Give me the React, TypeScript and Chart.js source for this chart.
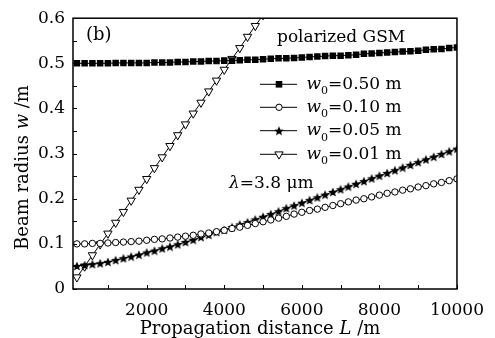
import React, { useEffect, useRef } from 'react';
import { Chart, registerables } from 'chart.js';

Chart.register(...registerables);

// ---------- data ----------
const distances = [
  200, 400, 600, 800, 1000, 1200, 1400, 1600, 1800, 2000,
  2200, 2400, 2600, 2800, 3000, 3200, 3400, 3600, 3800, 4000,
  4200, 4400, 4600, 4800, 5000, 5200, 5400, 5600, 5800, 6000,
  6200, 6400, 6600, 6800, 7000, 7200, 7400, 7600, 7800, 8000,
  8200, 8400, 8600, 8800, 9000, 9200, 9400, 9600, 9800, 10000,
];

const w050 = [
  0.500, 0.500, 0.500, 0.500, 0.500, 0.501, 0.501, 0.501, 0.501, 0.501,
  0.502, 0.502, 0.502, 0.503, 0.503, 0.504, 0.504, 0.505, 0.505, 0.506,
  0.506, 0.507, 0.508, 0.508, 0.509, 0.510, 0.511, 0.511, 0.512, 0.513,
  0.514, 0.515, 0.516, 0.517, 0.517, 0.518, 0.519, 0.521, 0.522, 0.523,
  0.524, 0.525, 0.526, 0.527, 0.528, 0.530, 0.531, 0.532, 0.534, 0.535,
];

const w010 = [
  0.100, 0.100, 0.101, 0.101, 0.102, 0.103, 0.104, 0.105, 0.106, 0.108,
  0.110, 0.111, 0.113, 0.115, 0.117, 0.119, 0.122, 0.124, 0.127, 0.130,
  0.134, 0.137, 0.141, 0.145, 0.149, 0.153, 0.157, 0.161, 0.166, 0.170,
  0.174, 0.177, 0.181, 0.185, 0.189, 0.193, 0.197, 0.200, 0.204, 0.208,
  0.212, 0.215, 0.219, 0.222, 0.226, 0.229, 0.233, 0.236, 0.240, 0.244,
];

const w005 = [
  0.051, 0.053, 0.055, 0.057, 0.060, 0.064, 0.068, 0.072, 0.076, 0.081,
  0.085, 0.090, 0.094, 0.099, 0.104, 0.109, 0.115, 0.120, 0.126, 0.131,
  0.137, 0.143, 0.148, 0.154, 0.160, 0.166, 0.172, 0.179, 0.185, 0.191,
  0.197, 0.203, 0.209, 0.215, 0.221, 0.227, 0.233, 0.239, 0.245, 0.251,
  0.257, 0.263, 0.269, 0.275, 0.281, 0.287, 0.293, 0.299, 0.305, 0.311,
];

const w001 = [
  0.026, 0.050, 0.075, 0.099, 0.123, 0.147, 0.171, 0.196, 0.220, 0.244,
  0.268, 0.292, 0.317, 0.341, 0.365, 0.389, 0.413, 0.438, 0.462, 0.486,
  0.510, 0.534, 0.559, 0.583, 0.607,
];

const legendLabels = ['=0.50 m', '=0.10 m', '=0.05 m', '=0.01 m'];
const xTicks = [2000, 4000, 6000, 8000, 10000];
const xMinorTicks = [1000, 3000, 5000, 7000, 9000];
const yTicks = [0, 0.1, 0.2, 0.3, 0.4, 0.5, 0.6];
const yMinorTicks = [0.05, 0.15, 0.25, 0.35, 0.45, 0.55];

// ---------- styling ----------
const FONT_FAMILY = '"DejaVu Serif", "Liberation Serif", serif';
const FONT_SIZE = 17;
const TITLE_SIZE = 18;

function makeStar(size: number): HTMLCanvasElement {
  const c = document.createElement('canvas');
  c.width = size;
  c.height = size;
  const g = c.getContext('2d')!;
  const cx = size / 2;
  const cy = size / 2 + 0.5;
  const R = size / 2;
  const r = R * 0.45;
  g.beginPath();
  for (let k = 0; k < 10; k++) {
    const rad = -Math.PI / 2 + (k * Math.PI) / 5;
    const rr = k % 2 === 0 ? R : r;
    const px = cx + Math.cos(rad) * rr;
    const py = cy + Math.sin(rad) * rr;
    if (k === 0) g.moveTo(px, py);
    else g.lineTo(px, py);
  }
  g.closePath();
  g.fillStyle = '#000';
  g.fill();
  return c;
}

type Run = { t: string; i?: boolean; sub?: boolean };

function fontFor(run: Run, size: number) {
  const s = run.sub ? size * 0.65 : size;
  return `${run.i ? 'italic ' : ''}${s}px ${FONT_FAMILY}`;
}

function measureRuns(ctx: CanvasRenderingContext2D, runs: Run[], size: number) {
  let w = 0;
  for (const r of runs) {
    ctx.font = fontFor(r, size);
    w += ctx.measureText(r.t).width;
  }
  return w;
}

function drawRuns(ctx: CanvasRenderingContext2D, x: number, y: number, runs: Run[], size: number) {
  let cx = x;
  ctx.textBaseline = 'alphabetic';
  ctx.textAlign = 'left';
  for (const r of runs) {
    ctx.font = fontFor(r, size);
    ctx.fillText(r.t, cx, r.sub ? y + size * 0.3 : y);
    cx += ctx.measureText(r.t).width;
  }
}

function drawMarker(ctx: CanvasRenderingContext2D, kind: string, x: number, y: number, star: HTMLCanvasElement) {
  ctx.save();
  ctx.lineWidth = 1;
  ctx.strokeStyle = '#000';
  if (kind === 'rect') {
    ctx.fillStyle = '#000';
    ctx.fillRect(x - 3.3, y - 3.3, 6.6, 6.6);
  } else if (kind === 'circle') {
    ctx.fillStyle = '#fff';
    ctx.beginPath();
    ctx.arc(x, y, 3.2, 0, Math.PI * 2);
    ctx.fill();
    ctx.stroke();
  } else if (kind === 'star') {
    ctx.drawImage(star, x - star.width / 2, y - star.height / 2);
  } else {
    const r = 4.8;
    ctx.fillStyle = '#fff';
    ctx.beginPath();
    ctx.moveTo(x, y + r);
    ctx.lineTo(x - r * 0.866, y - r / 2);
    ctx.lineTo(x + r * 0.866, y - r / 2);
    ctx.closePath();
    ctx.fill();
    ctx.stroke();
  }
  ctx.restore();
}

export default function App() {
  const ref = useRef<HTMLCanvasElement | null>(null);

  useEffect(() => {
    const canvas = ref.current;
    if (!canvas) return;
    const star = makeStar(10);
    const markerKinds = ['rect', 'circle', 'star', 'triangle'];

    const overlay = {
      id: 'overlay',
      afterDraw(chart: any) {
        const { ctx, chartArea: a, scales } = chart;
        const xs = scales.x;
        const ys = scales.y;
        ctx.save();
        ctx.strokeStyle = '#000';
        ctx.fillStyle = '#000';
        // inward ticks
        ctx.lineWidth = 1;
        ctx.beginPath();
        for (const v of [...xTicks, ...xMinorTicks]) {
          const px = Math.round(xs.getPixelForValue(v)) + 0.5;
          ctx.moveTo(px, a.bottom);
          ctx.lineTo(px, a.bottom - 4);
        }
        for (const v of [...yTicks, ...yMinorTicks]) {
          const py = Math.round(ys.getPixelForValue(v)) + 0.5;
          ctx.moveTo(a.left, py);
          ctx.lineTo(a.left + 4, py);
        }
        ctx.stroke();
        // frame
        ctx.lineWidth = 1.5;
        ctx.strokeRect(a.left, a.top, a.right - a.left, a.bottom - a.top);

        // annotations
        drawRuns(ctx, 86, 39.5, [{ t: '(b)' }], TITLE_SIZE);
        drawRuns(ctx, 277, 41.5, [{ t: 'polarized GSM' }], FONT_SIZE);
        drawRuns(ctx, 229, 187.5, [{ t: 'λ', i: true }, { t: '=3.8 μm' }], FONT_SIZE);

        // legend
        const legendY = [84.3, 107.3, 130.7, 154.3];
        legendLabels.forEach((lab, k) => {
          const ly = legendY[k];
          ctx.lineWidth = 1;
          ctx.beginPath();
          ctx.moveTo(260, ly);
          ctx.lineTo(297, ly);
          ctx.stroke();
          drawMarker(ctx, markerKinds[k], 279, ly, star);
          ctx.fillStyle = '#000';
          drawRuns(ctx, 306.5, ly + 4.7, [{ t: 'w', i: true }, { t: '0', sub: true }, { t: lab }], FONT_SIZE);
        });

        // axis titles
        const xRuns: Run[] = [{ t: 'Propagation distance ' }, { t: 'L', i: true }, { t: ' /m' }];
        const xw = measureRuns(ctx, xRuns, TITLE_SIZE);
        drawRuns(ctx, 260 - xw / 2, 334, xRuns, TITLE_SIZE);

        const yRuns: Run[] = [{ t: 'Beam radius ' }, { t: 'w', i: true }, { t: ' /m' }];
        const yw = measureRuns(ctx, yRuns, TITLE_SIZE);
        ctx.translate(28, 167.5);
        ctx.rotate(-Math.PI / 2);
        drawRuns(ctx, -yw / 2, 0, yRuns, TITLE_SIZE);
        ctx.restore();
      },
    };

    const tickFont = { family: FONT_FAMILY, size: FONT_SIZE };

    const chart = new Chart(canvas, {
      type: 'line',
      data: {
        datasets: [
          {
            label: 'w0=0.50 m',
            data: distances.map((d, i) => ({ x: d, y: w050[i] })),
            borderColor: '#000',
            borderWidth: 1,
            pointStyle: 'rect',
            pointRadius: 4.6,
            pointBackgroundColor: '#000',
            pointBorderColor: '#000',
            pointBorderWidth: 0,
          },
          {
            label: 'w0=0.10 m',
            data: distances.map((d, i) => ({ x: d, y: w010[i] })),
            borderColor: '#000',
            borderWidth: 1,
            pointStyle: 'circle',
            pointRadius: 3.2,
            pointBackgroundColor: '#fff',
            pointBorderColor: '#000',
            pointBorderWidth: 1,
          },
          {
            label: 'w0=0.05 m',
            data: distances.map((d, i) => ({ x: d, y: w005[i] })),
            borderColor: '#000',
            borderWidth: 1,
            pointStyle: star,
            pointRadius: 5,
            pointBackgroundColor: '#000',
            pointBorderColor: '#000',
          },
          {
            label: 'w0=0.01 m',
            data: w001.map((v, i) => ({ x: distances[i], y: v })),
            borderColor: '#000',
            borderWidth: 1,
            pointStyle: 'triangle',
            pointRotation: 180,
            pointRadius: 4.8,
            pointBackgroundColor: '#fff',
            pointBorderColor: '#000',
            pointBorderWidth: 1,
          },
        ],
      },
      options: {
        responsive: false,
        animation: false,
        events: [],
        layout: { padding: { left: 0, top: 18, right: 35, bottom: 0 } },
        plugins: {
          legend: { display: false },
          title: { display: false },
          tooltip: { enabled: false },
        },
        elements: { line: { tension: 0 } },
        scales: {
          x: {
            type: 'linear',
            min: 100,
            max: 10000,
            grid: { display: false, drawTicks: false },
            border: { display: false },
            afterBuildTicks: (s: any) => {
              s.ticks = xTicks.map((v) => ({ value: v }));
            },
            afterFit: (s: any) => {
              s.height = 49;
            },
            ticks: {
              font: tickFont,
              color: '#000',
              padding: 11,
              maxRotation: 0,
              autoSkip: false,
              callback: (v: any) => String(v),
            },
          },
          y: {
            type: 'linear',
            min: 0,
            max: 0.6,
            grid: { display: false, drawTicks: false },
            border: { display: false },
            afterBuildTicks: (s: any) => {
              s.ticks = yTicks.map((v) => ({ value: v }));
            },
            afterFit: (s: any) => {
              s.width = 73;
            },
            ticks: {
              font: tickFont,
              color: '#000',
              padding: 8,
              callback: (v: any) => (Number(v) === 0 ? '0' : Number(v).toFixed(1)),
            },
          },
        },
      },
      plugins: [overlay],
    } as any);

    return () => {
      chart.destroy();
    };
  }, []);

  return (
    <div style={{ position: 'absolute', left: 0, top: 0, width: 495, height: 338, background: '#fff' }}>
      <canvas ref={ref} width={495} height={338} style={{ display: 'block' }} />
    </div>
  );
}
